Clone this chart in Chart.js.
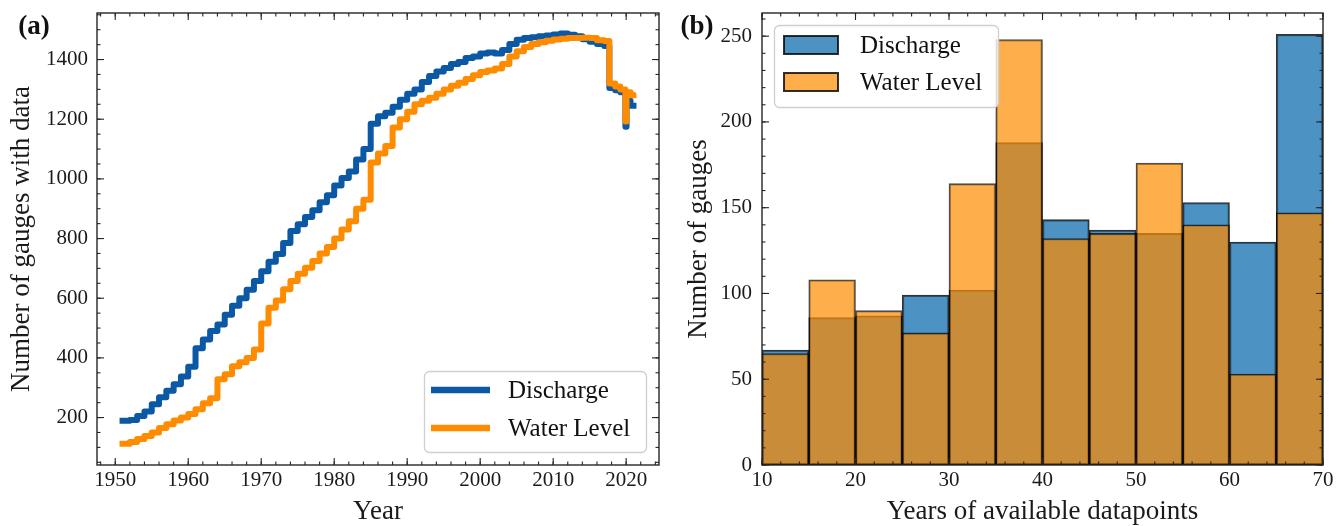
<!DOCTYPE html>
<html><head><meta charset="utf-8">
<script src="https://cdn.jsdelivr.net/npm/chart.js@4.4.0/dist/chart.umd.min.js"></script>
<style>
html,body{margin:0;padding:0;background:#fff;width:1336px;height:526px;overflow:hidden}
canvas{position:absolute;top:0}
#c1{left:0}
#c2{left:668px}
</style></head><body>
<canvas id="c1" width="668" height="526"></canvas>
<canvas id="c2" width="668" height="526"></canvas>
<script>
// ---------- data ----------
const seriesNames = ['Discharge', 'Water Level'];

// panel (a): gauges with data per year
const years = [1951,1952,1953,1954,1955,1956,1957,1958,1959,1960,
  1961,1962,1963,1964,1965,1966,1967,1968,1969,1970,
  1971,1972,1973,1974,1975,1976,1977,1978,1979,1980,
  1981,1982,1983,1984,1985,1986,1987,1988,1989,1990,
  1991,1992,1993,1994,1995,1996,1997,1998,1999,2000,
  2001,2002,2003,2004,2005,2006,2007,2008,2009,2010,
  2011,2012,2013,2014,2015,2016,2017,
  2017.7,2018.5,2019.2,2019.9,2020.05,2020.6,2021];
const dischargeCount = [189,192,205,220,245,268,290,312,338,370,
  432,462,490,512,545,575,600,628,658,690,
  722,748,785,825,848,872,895,922,945,978,
  1003,1025,1065,1100,1185,1210,1222,1242,1265,1285,
  1300,1325,1345,1360,1372,1385,1392,1405,1410,1420,
  1424,1420,1432,1452,1466,1472,1475,1478,1481,1484,
  1487,1483,1478,1468,1460,1452,1445,
  1305,1297,1290,1175,1262,1245,1245];
const waterLevelCount = [112,118,128,138,150,165,178,190,200,212,
  228,248,265,328,345,372,385,400,428,515,
  568,592,630,658,682,702,725,750,772,800,
  830,858,900,930,1055,1085,1110,1172,1200,1225,
  1250,1262,1272,1285,1300,1312,1322,1335,1347,1358,
  1363,1370,1385,1410,1428,1442,1452,1458,1463,1467,
  1470,1472,1472,1473,1472,1465,1462,
  1320,1310,1300,1192,1290,1282,1280];
const yearTicks = [1950,1960,1970,1980,1990,2000,2010,2020];
const gaugeTicks = [200,400,600,800,1000,1200,1400];

// panel (b): histogram of record length
const binCenters = [12.5,17.5,22.5,27.5,32.5,37.5,42.5,47.5,52.5,57.5,62.5,67.5];
const dischargeHist = [67,86,87,99,102,188,143,137,135,153,130,251];
const waterLevelHist = [65,108,90,77,164,248,132,135,176,140,53,147];
const binTicks = [10,20,30,40,50,60,70];
const histTicks = [0,50,100,150,200,250];

// ---------- styling ----------
Chart.defaults.font.family = "'Liberation Serif','Times New Roman',serif";
Chart.defaults.color = '#1a1a1a';
Chart.defaults.animation = false;

const LINE_BLUE = '#0b58a5', LINE_ORANGE = '#ff8c00';
const BAR_BLUE = 'rgba(31,119,180,0.8)', BAR_ORANGE = 'rgba(255,140,0,0.7)';
const TICK_FONT = {size: 21};
const TITLE_FONT = {size: 27, lineHeight: 1};

function roundRect(ctx,x,y,w,h,r){ctx.beginPath();ctx.moveTo(x+r,y);ctx.arcTo(x+w,y,x+w,y+h,r);ctx.arcTo(x+w,y+h,x,y+h,r);ctx.arcTo(x,y+h,x,y,r);ctx.arcTo(x,y,x+w,y,r);ctx.closePath();}

const frameTicks = {
  id: 'frameTicks',
  afterDatasetsDraw(chart, args, o) {
    const {ctx, chartArea: a, scales: {x, y}} = chart;
    ctx.save();
    ctx.strokeStyle = '#262626'; ctx.lineWidth = 1.1;
    const seg = (x1,y1,x2,y2)=>{ctx.beginPath();ctx.moveTo(x1,y1);ctx.lineTo(x2,y2);ctx.stroke();};
    const xt = (v,len)=>{const p=x.getPixelForValue(v); seg(p,a.bottom,p,a.bottom-len); seg(p,a.top,p,a.top+len);};
    const yt = (v,len)=>{const p=y.getPixelForValue(v); seg(a.left,p,a.left+len,p); seg(a.right,p,a.right-len,p);};
    const minor = (sc,step,fn)=>{const s=Math.ceil(sc.min/step-1e-9), e=Math.floor(sc.max/step+1e-9); for(let k=s;k<=e;k++) fn(k*step,3.5);};
    minor(x, o.xMinor, xt); minor(y, o.yMinor, yt);
    x.ticks.forEach(t=>xt(t.value,7)); y.ticks.forEach(t=>yt(t.value,7));
    ctx.lineWidth = 1.4;
    ctx.strokeRect(a.left, a.top, a.right-a.left, a.bottom-a.top);
    ctx.restore();
  }
};

const overlay = {
  id: 'overlay',
  afterDraw(chart, args, o) {
    const ctx = chart.ctx;
    ctx.save();
    ctx.font = "bold 27px 'Liberation Serif'";
    ctx.fillStyle = '#111'; ctx.textAlign = 'center'; ctx.textBaseline = 'middle';
    ctx.fillText(o.panel, o.panelX, o.panelY);
    const b = o.box;
    roundRect(ctx, b[0]+0.5, b[1]+0.5, b[2], b[3], 5);
    ctx.fillStyle = 'rgba(255,255,255,0.8)'; ctx.fill();
    ctx.strokeStyle = '#cfcfcf'; ctx.lineWidth = 1.3; ctx.stroke();
    ctx.font = "25px 'Liberation Serif'";
    ctx.textAlign = 'left';
    chart.data.datasets.forEach((ds, i) => {
      const yc = o.rows[i];
      if (o.kind === 'line') {
        ctx.strokeStyle = ds.borderColor; ctx.lineWidth = 6.5; ctx.lineCap = 'butt';
        ctx.beginPath(); ctx.moveTo(o.sx0, yc); ctx.lineTo(o.sx1, yc); ctx.stroke();
      } else {
        ctx.fillStyle = ds.backgroundColor;
        ctx.fillRect(o.sx0, yc-9, o.sx1-o.sx0, 18);
        ctx.strokeStyle = 'rgba(0,0,0,0.8)'; ctx.lineWidth = 2;
        ctx.strokeRect(o.sx0, yc-9, o.sx1-o.sx0, 18);
      }
      ctx.fillStyle = '#111';
      ctx.fillText(ds.label, o.tx, yc+1);
    });
    ctx.restore();
  }
};

function xFit(h){ return s => { s.height = h; s.paddingLeft = 0; s.paddingRight = 0; }; }
function yFit(w){ return s => { s.width = w; s.paddingTop = 0; s.paddingBottom = 0; }; }
function setTicks(arr){ return s => { s.ticks = arr.map(v => ({value: v})); }; }

// ---------- panel (a) ----------
new Chart(document.getElementById('c1'), {
  type: 'line',
  data: {
    datasets: [
      {label: seriesNames[0], data: years.map((x,i)=>({x, y: dischargeCount[i]})),
       borderColor: LINE_BLUE, order: 1},
      {label: seriesNames[1], data: years.map((x,i)=>({x, y: waterLevelCount[i]})),
       borderColor: LINE_ORANGE, order: 0}
    ]
  },
  options: {
    responsive: false, devicePixelRatio: 1,
    layout: {padding: {top: 13, right: 9, left: 0, bottom: 0}},
    elements: {line: {borderWidth: 6, stepped: true, tension: 0, borderCapStyle: 'square', borderJoinStyle: 'round', fill: false},
               point: {radius: 0, hoverRadius: 0}},
    plugins: {legend: {display: false}, tooltip: {enabled: false},
      frameTicks: {xMinor: 2, yMinor: 50},
      overlay: {panel: '(a)', panelX: 34, panelY: 27, kind: 'line',
        box: [424, 371, 222, 81], rows: [390, 428], sx0: 431, sx1: 490, tx: 508}},
    scales: {
      x: {type: 'linear', min: 1947.5, max: 2024.5,
          afterBuildTicks: setTicks(yearTicks), afterFit: xFit(61),
          grid: {display: false, drawTicks: false}, border: {display: false},
          ticks: {font: TICK_FONT, padding: 3, autoSkip: false, maxRotation: 0, callback: v => String(v)},
          title: {display: true, text: 'Year', font: TITLE_FONT, padding: {top: 0, bottom: 1}}},
      y: {type: 'linear', min: 41, max: 1556,
          afterBuildTicks: setTicks(gaugeTicks), afterFit: yFit(97),
          grid: {display: false, drawTicks: false}, border: {display: false},
          ticks: {font: TICK_FONT, padding: 9, autoSkip: false, callback: v => String(v)},
          title: {display: true, text: 'Number of gauges with data', font: TITLE_FONT, padding: {top: 8.5, bottom: 0}}}
    }
  },
  plugins: [frameTicks, overlay]
});

// ---------- panel (b) ----------
new Chart(document.getElementById('c2'), {
  type: 'bar',
  data: {
    datasets: [
      {label: seriesNames[0], data: binCenters.map((x,i)=>({x, y: dischargeHist[i]})),
       backgroundColor: BAR_BLUE, borderColor: 'rgba(0,0,0,0.8)', order: 1},
      {label: seriesNames[1], data: binCenters.map((x,i)=>({x, y: waterLevelHist[i]})),
       backgroundColor: BAR_ORANGE, borderColor: 'rgba(0,0,0,0.7)', order: 0}
    ]
  },
  options: {
    responsive: false, devicePixelRatio: 1,
    layout: {padding: {top: 13, right: 13, left: 0, bottom: 0}},
    datasets: {bar: {grouped: false, barPercentage: 1, categoryPercentage: 1, borderWidth: 1.6, borderSkipped: false}},
    plugins: {legend: {display: false}, tooltip: {enabled: false},
      frameTicks: {xMinor: 2, yMinor: 10},
      overlay: {panel: '(b)', panelX: 29, panelY: 27, kind: 'bar',
        box: [106, 25, 224, 82], rows: [45, 82], sx0: 116, sx1: 170, tx: 192}},
    scales: {
      x: {type: 'linear', min: 10, max: 70, offset: false,
          afterBuildTicks: setTicks(binTicks), afterFit: xFit(61),
          grid: {display: false, drawTicks: false, offset: false}, border: {display: false},
          ticks: {font: TICK_FONT, padding: 3, autoSkip: false, maxRotation: 0, callback: v => String(v)},
          title: {display: true, text: 'Years of available datapoints', font: TITLE_FONT, padding: {top: 0, bottom: 1}}},
      y: {type: 'linear', min: 0, max: 263.5,
          afterBuildTicks: setTicks(histTicks), afterFit: yFit(94),
          grid: {display: false, drawTicks: false}, border: {display: false},
          ticks: {font: TICK_FONT, padding: 10, autoSkip: false, callback: v => String(v)},
          title: {display: true, text: 'Number of gauges', font: TITLE_FONT, padding: {top: 17, bottom: 0}}}
    }
  },
  plugins: [frameTicks, overlay]
});
</script>
</body></html>
